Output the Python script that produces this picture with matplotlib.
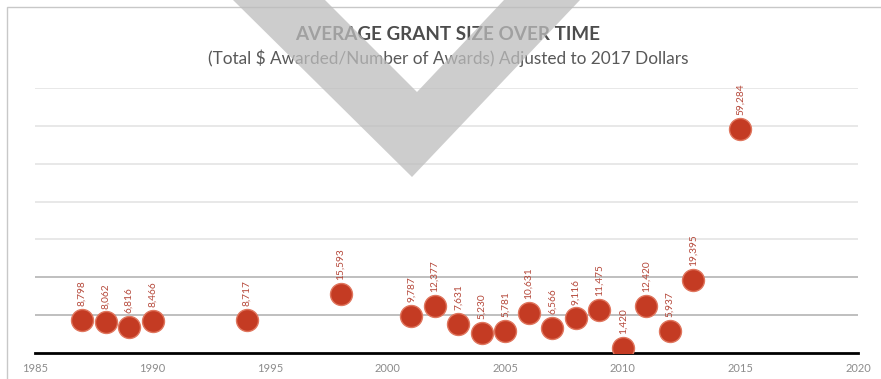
import matplotlib.pyplot as plt
from matplotlib.patches import Polygon, Rectangle

years = [1987, 1988, 1989, 1990, 1994, 1998, 2001, 2002, 2003, 2004,
         2005, 2006, 2007, 2008, 2009, 2010, 2011, 2012, 2013, 2015]
grant_size = [8798, 8062, 6816, 8466, 8717, 15593, 9787, 12377, 7631, 5230,
              5781, 10631, 6566, 9116, 11475, 1420, 12420, 5937, 19395, 59284]
x_ticks = [1985, 1990, 1995, 2000, 2005, 2010, 2015, 2020]
y_grid = [10000, 20000, 30000, 40000, 50000, 60000, 70000]

W, H = 881, 379
plt.rcParams['font.family'] = ['Lato', 'DejaVu Sans']

fig = plt.figure(figsize=(W / 100, H / 100), dpi=100)
ax = fig.add_axes([35 / W, 1 - 353 / H, (858 - 35) / W, (353 - 88) / H])

# gridlines (lower two are darker in the source)
for v in y_grid:
    c = '#b4b4b4' if v <= 20000 else '#e4e4e4'
    ax.axhline(v, color=c, linewidth=1.2, zorder=1)

ax.scatter(years, grant_size, s=250, color='#c43b23', edgecolor='#e0765e',
           linewidth=1, zorder=3)
for yr, val in zip(years, grant_size):
    ax.annotate('{:,}'.format(val), (yr, val), xytext=(0, 10),
                textcoords='offset points', rotation=90, ha='center',
                va='bottom', fontsize=7.3, color='#b5483a', zorder=4)

ax.set_xlim(1985, 2020)
ax.set_ylim(0, 70000)
ax.set_xticks(x_ticks)
ax.set_yticks([])
ax.tick_params(axis='x', length=0, labelsize=8, labelcolor='#8c8c8c', pad=7)
for side in ['top', 'right', 'left']:
    ax.spines[side].set_visible(False)
ax.spines['bottom'].set_color('black')
ax.spines['bottom'].set_linewidth(2)
ax.set_facecolor('none')

fig.text(448 / W, 1 - 34 / H, 'AVERAGE GRANT SIZE OVER TIME', ha='center',
         va='center', fontsize=13.6, fontweight='bold', color='#4d4d4d')
fig.text(448 / W, 1 - 58 / H,
         '(Total $ Awarded/Number of Awards) Adjusted to 2017 Dollars',
         ha='center', va='center', fontsize=12.4, color='#595959')

# chart frame
fig.patches.append(Rectangle((7 / W, -0.05), 1.1, 1 - 7 / H + 0.05,
                             transform=fig.transFigure, fill=False,
                             edgecolor='#c8c8c8', linewidth=1, zorder=0))

# big gray check-mark overlay
pts = [(233, 0), (412, 177), (580, 0), (504, 0), (417, 92), (325, 0)]
fig.patches.append(Polygon([(x / W, 1 - y / H) for x, y in pts], closed=True,
                           transform=fig.transFigure, facecolor='#bdbdbd',
                           edgecolor='none', alpha=0.75, zorder=10))

fig.savefig('out.png', dpi=100)
